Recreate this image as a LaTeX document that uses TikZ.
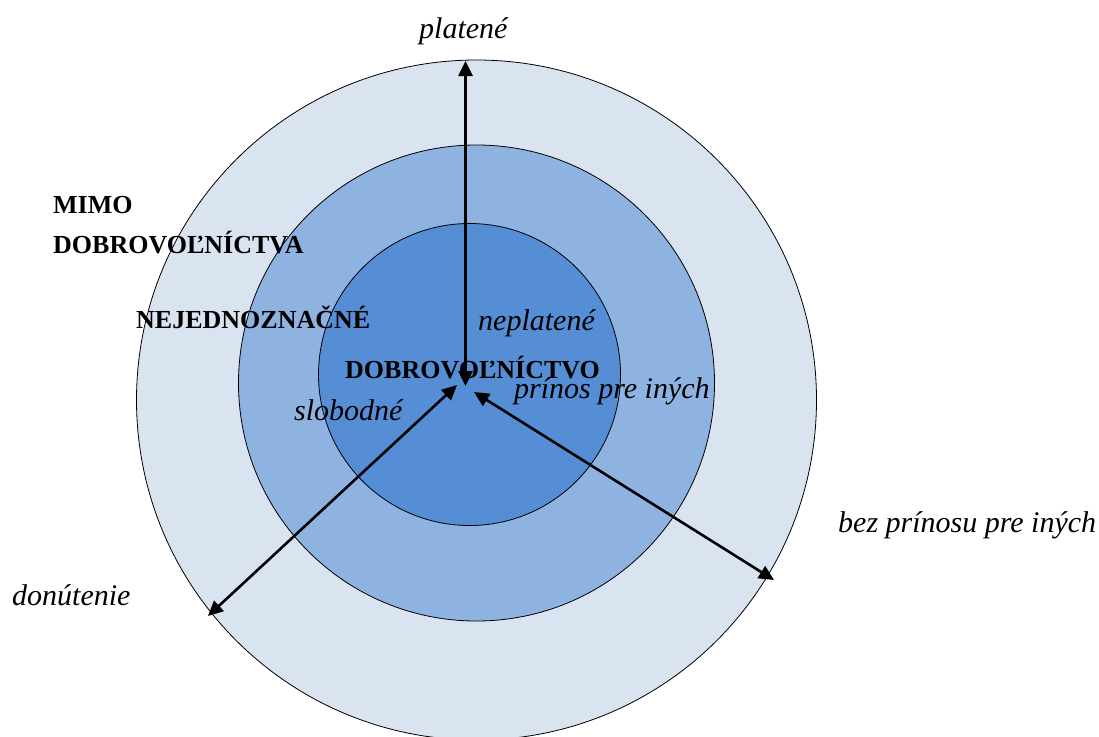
\documentclass[tikz,border=0pt]{standalone}
\usepackage{fontspec}
\setmainfont{Liberation Serif}
\usetikzlibrary{arrows.meta}
\definecolor{ringout}{HTML}{DAE3F0}
\definecolor{ringmid}{HTML}{8EB3E1}
\definecolor{ringin}{HTML}{558ED5}
\tikzset{
  ring/.style={circle, draw=black, line width=0.8pt, inner sep=0pt},
  boldlbl/.style={anchor=base west, inner sep=0pt, font=\fontsize{26}{30}\selectfont\bfseries},
  itlbl/.style={anchor=base west, inner sep=0pt, font=\fontsize{30}{34}\selectfont\itshape},
  axis/.style={line width=2.6pt, {Triangle[length=15pt,width=14pt]}-{Triangle[length=15pt,width=14pt]}}
}
\begin{document}
\begin{tikzpicture}[x=1pt,y=-1pt]
\useasboundingbox (0,0) rectangle (1099,736);
\clip (0,0) rectangle (1099,736);
\node[ring, fill=ringout, minimum size=680pt] (outer) at (476.5,400) {};
\node[ring, fill=ringmid, minimum size=476pt] (middle) at (476.5,383) {};
\node[ring, fill=ringin, minimum size=302pt] (inner) at (469.5,374.5) {};
% labels
\node[itlbl] (plat) at (419,38) {platené};
\node[boldlbl] (mimo) at (53,213) {MIMO};
\node[boldlbl] (mimo2) at (53,253) {DOBROVOĽNÍCTVA};
\node[boldlbl] (nejed) at (136,328) {NEJEDNOZNAČNÉ};
\node[boldlbl] (dobr) at (345,378) {DOBROVOĽNÍCTVO};
\node[itlbl] (nepl) at (478,330) {neplatené};
\node[itlbl] (prin) at (514,398) {prínos pre iných};
\node[itlbl] (slob) at (294,420) {slobodné};
\node[itlbl] (donu) at (12,605) {donútenie};
\node[itlbl] (bezp) at (838,532) {bez prínosu pre iných};
% axes
\coordinate (cTop) at (465.5,386);
\coordinate (cLeft) at (457,385);
\coordinate (cRight) at (474,392);
\coordinate (eTop) at (465.5,61);
\coordinate (eLeft) at (208,616);
\coordinate (eRight) at (774,580);
\draw[axis] (cTop) -- (eTop);
\draw[axis] (cLeft) -- (eLeft);
\draw[axis] (cRight) -- (eRight);
\end{tikzpicture}
\end{document}
